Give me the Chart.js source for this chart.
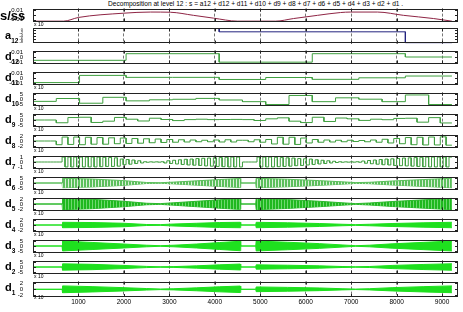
<!DOCTYPE html>
<html>
<head>
<meta charset="utf-8">
<script src="https://cdn.jsdelivr.net/npm/chart.js@4/dist/chart.umd.min.js"></script>
<style>
  body { margin: 0; width: 463px; height: 312px; overflow: hidden; position: relative; background: #fff;
         font-family: "Liberation Sans", Arial, sans-serif; }
  #title { position: absolute; top: 0; left: 108px; font-size: 6.6px; white-space: nowrap; color: #000; }
  .lab { position: absolute; font-weight: bold; font-size: 11px; line-height: 1; color: #000; }
  .lab .sb { font-size: 6.5px; position: relative; top: 4px; }
  .ex { position: absolute; left: 34px; font-size: 5px; line-height: 1; color: #000; }
</style>
</head>
<body>
<div id="title">Decomposition at level 12 : s = a12 + d12 + d11 + d10 + d9 + d8 + d7 + d6 + d5 + d4 + d3 + d2 + d1 .</div>
<script>
// ---- data ----
const X_MAX = 9350;
const SIG_END = 9216;
const xTickValues = [1000, 2000, 3000, 4000, 5000, 6000, 7000, 8000, 9000];

// signal s/ss
const sX = [0, 671, 1000, 1990, 2585, 3025, 3530, 3970, 4500, 5335, 5730, 6260, 6765, 6985, 7580, 8150, 8815, 9216];
const sY = [-0.013, -0.013, -0.0052, 0.0038, 0.0062, 0.0058, -0.0007, -0.0066, -0.013, -0.013, -0.0075, -0.0007, 0.0052, 0.0062, 0.0062, -0.0007, -0.0075, -0.013];

// approximation a12 (one level per 4096 samples)
const a12 = [2, 0.55, -0.9];

// step details (one level per block)
const d12 = [-0.0067, 0.0067, -0.0105, 0.0067, 0];
const d11 = [-0.0093, 0.0053, 0.0013, 0.0013, -0.003, 0.001, -0.0027, 0.0004, 0.004];
const d10 = [-2.4, 0.5, -4.3, 1.7, -1.9, -0.8, -0.3, 0.6, -1.0, -2.7, -5.6, 3.6, -2.7, 1.2, -0.2, -2.7, 4.1, -5.6];
const d9 = [0, 0, -2.8, 2.5, 2.8, -2.5, -1.2, 2.6, 0.8, -1.0, 1.8, 0.5, -0.6, 0.4, 0.8, 0.4, 0.5, 0.6,
            0.4, -0.5, 1.2, 2.2, -1.2, -2.6, 2.8, -1.5, 2.0, 1.2, -0.4, 0.8, 0.3, 1.6, 1.8, -2.2, 2.4, -3.0];
const d8 = [0, 0, 0, 0,
            -1.5, 1.6, -1.4, 1.6, -1.5, 1.5, -1.3, 1.4, -1.3, 1.3, -1.1, 1.2, -1.0, 1.0, -0.9, 0.9, -0.7, 0.8, -0.6, 0.6, -0.5, 0.5, -0.4, 0.4,
            -0.3, 0.3, -0.3, 0.4, -0.4, 0.5, -0.4, 0.3,
            0.3, -0.3, 0.5, -0.5, 0.6,
            -1.2, 1.5, -1.3, 1.5, -1.4, 1.2, -0.8,
            0.6, -0.5, 0.4, -0.4, 0.3, -0.3, 0.3, -0.2, 0.2,
            -0.3, 0.4, -0.5, 0.7, -0.8, 1.0, -1.1,
            1.4, -1.5, 1.5, -1.6, 1.6, -1.6, 1.7, -1.7];
const d7 = [0, 0, 0, 0, 0, 0, 0, 0, 0, 0,
            1, -1, 1, -1, 1, -1, 1, -1, 1, -1, 1, -1, 1, -0.95, 0.95, -0.9, 0.9, -0.9, 0.85, -0.85,
            0.6, -0.55, 0.5, -0.45, 0.4, -0.3, 0.25, -0.2,
            0.05, -0.05, 0.03, -0.03, 0.03, -0.03, 0.05,
            -0.2, 0.25, -0.3, 0.35, -0.4, 0.45, -0.5, 0.55, -0.6, 0.6, -0.65, 0.7, -0.7, 0.75, -0.8, 0.8, -0.85, 0.85,
            -0.9, 0.9, -0.95, 0.95, -1, 1, -1, 1, -1,
            0, 0, 0, 0, 0,
            1, -1, 1, -1, 1, -1, 0.95, -0.95, 0.9, -0.9, 0.85, -0.85, 0.8, -0.75, 0.7, -0.7, 0.65, -0.6, 0.6,
            -0.5, 0.45, -0.4, 0.35, -0.3, 0.25, -0.2, 0.15, -0.1,
            0.05, -0.05, 0.03, -0.03, 0.03, -0.03, 0.05, -0.05,
            0.2, -0.25, 0.3, -0.35, 0.4, -0.45, 0.5, -0.55, 0.6, -0.6, 0.65, -0.7, 0.7, -0.75, 0.8, -0.8, 0.85, -0.85,
            0.9, -0.9, 0.95, -0.95, 1, -1, 1, -1, 1, -1, 1, -1, 1];

// dense details: upper / lower envelope at envX
const envX = [0, 640, 650, 1300, 2000, 2500, 2800, 3100, 3600, 4100, 4560, 4570, 4900, 4910, 5600, 6300, 6800, 7100, 7400, 7900, 8600, 9216];
const d6Hi = [0, 0, 4.8, 4.0, 2.4, 0.5, 0.3, 0.9, 2.2, 3.5, 4.6, 0, 0, 4.8, 3.8, 2.4, 1.2, 0.4, 0.7, 2.0, 3.5, 4.8];
const d6Lo = [0, 0, -4.8, -4.0, -2.4, -0.5, -0.3, -0.9, -2.2, -3.5, -4.6, 0, 0, -4.8, -3.8, -2.4, -1.2, -0.4, -0.7, -2.0, -3.5, -4.8];
const d5Hi = [0, 0, 2.3, 1.9, 1.1, 0.3, 0.15, 0.5, 1.1, 1.7, 2.2, 0, 0, 2.3, 1.8, 1.1, 0.5, 0.15, 0.4, 1.0, 1.7, 2.3];
const d5Lo = [0, 0, -2.3, -1.9, -1.1, -0.3, -0.15, -0.5, -1.1, -1.7, -2.2, 0, 0, -2.3, -1.8, -1.1, -0.5, -0.15, -0.4, -1.0, -1.7, -2.3];
const d4Hi = [0, 0, 1.1, 1.0, 0.7, 0.2, 0.15, 0.4, 0.7, 1.0, 1.1, 0, 0, 1.1, 0.9, 0.6, 0.3, 0.15, 0.3, 0.6, 0.9, 1.1];
const d4Lo = [0, 0, -1.1, -1.0, -0.7, -0.2, -0.15, -0.4, -0.7, -1.0, -1.1, 0, 0, -1.1, -0.9, -0.6, -0.3, -0.15, -0.3, -0.6, -0.9, -1.1];
const d3Hi = [0, 0, 5.0, 3.6, 2.0, 0.8, 0.3, 0.8, 2.0, 3.5, 4.8, 0, 0, 5.0, 3.8, 2.4, 1.1, 0.3, 0.8, 2.2, 3.7, 5.0];
const d3Lo = [0, 0, -5.0, -3.6, -2.0, -0.8, -0.3, -0.8, -2.0, -3.5, -4.8, 0, 0, -5.0, -3.8, -2.4, -1.1, -0.3, -0.8, -2.2, -3.7, -5.0];
const d2Hi = [0, 0, 3.2, 2.7, 1.6, 0.6, 0.2, 0.4, 1.2, 2.2, 3.0, 0, 0, 2.2, 1.8, 1.2, 0.5, 0.2, 0.5, 1.6, 2.6, 3.3];
const d2Lo = [0, 0, -3.2, -2.7, -1.6, -0.6, -0.2, -0.4, -1.2, -2.2, -3.0, 0, 0, -2.2, -1.8, -1.2, -0.5, -0.2, -0.5, -1.6, -2.6, -3.3];
const d1Hi = [0, 0, 1.15, 0.9, 0.55, 0.25, 0.1, 0.2, 0.5, 0.85, 1.1, 0, 0, 0.8, 0.65, 0.45, 0.2, 0.08, 0.2, 0.55, 0.9, 1.15];
const d1Lo = [0, 0, -1.15, -0.9, -0.55, -0.25, -0.1, -0.2, -0.5, -0.85, -1.1, 0, 0, -0.8, -0.65, -0.45, -0.2, -0.08, -0.2, -0.55, -0.9, -1.15];

// y tick values / labels per row
const tk01 = [-0.01, 0, 0.01], tl01 = ["-0.01", "0", "0.01"];
const tk5 = [-5, 0, 5], tl5 = ["-5", "0", "5"];
const tk2 = [-2, 0, 2], tl2 = ["-2", "0", "2"];
const tk1 = [-1, 0, 1], tl1 = ["-1", "0", "1"];
const tkA = [-0.8, -0.4, 0, 0.4, 0.8], tlA = ["-8", "-6", "-4", "-2", "0"];

// ---- helpers ----
function stepPts(levels, block) {
  const pts = [];
  levels.forEach((v, i) => {
    pts.push({ x: i * block, y: v });
    pts.push({ x: Math.min((i + 1) * block, SIG_END), y: v });
  });
  return pts;
}
function zip(xs, ys) { return xs.map((x, i) => ({ x, y: ys[i] })); }

function stripes(col, bg, on, off) {
  const c = document.createElement("canvas");
  c.width = on + off; c.height = 4;
  const g = c.getContext("2d");
  g.fillStyle = bg; g.fillRect(0, 0, on + off, 4);
  g.fillStyle = col; g.fillRect(0, 0, on, 4);
  return g.createPattern(c, "repeat");
}

const STEP = "#3f9f3f";
const stepSet = (pts) => [{ data: pts, borderColor: STEP, borderWidth: 1 }];
const envSet = (hi, lo, fill, line) => [
  { data: zip(envX, hi), borderColor: line, borderWidth: 1, fill: "+1", backgroundColor: fill },
  { data: zip(envX, lo), borderColor: line, borderWidth: 1, fill: false }
];

// frame + inward ticks
const frame = {
  id: "frame",
  afterDatasetsDraw(chart) {
    const { ctx, chartArea: a, scales: { x, y } } = chart;
    ctx.save();
    ctx.strokeStyle = "#222";
    ctx.lineWidth = 1;
    ctx.beginPath();
    y.ticks.forEach(t => {
      const py = Math.round(y.getPixelForValue(t.value)) + 0.5;
      ctx.moveTo(a.left, py); ctx.lineTo(a.left + 3, py);
      ctx.moveTo(a.right - 3, py); ctx.lineTo(a.right, py);
    });
    x.ticks.forEach(t => {
      const px = Math.round(x.getPixelForValue(t.value)) + 0.5;
      ctx.moveTo(px, a.top); ctx.lineTo(px, a.top + 3);
      ctx.moveTo(px, a.bottom - 3); ctx.lineTo(px, a.bottom);
    });
    ctx.stroke();
    ctx.strokeRect(Math.round(a.left) + 0.5, Math.round(a.top) + 0.5,
                   Math.round(a.right - a.left) - 1, Math.round(a.bottom - a.top) - 1);
    ctx.restore();
  }
};

const rows = [
  { main: "s/ss", sub: "", lim: 0.0135, yt: tk01, yl: tl01, ex: true,
    sets: [{ data: zip(sX, sY), borderColor: "#8e2444", borderWidth: 1, cubicInterpolationMode: "monotone" }] },
  { main: "a", sub: "12", lim: 1, yt: tkA, yl: tlA, ex: false, small: true,
    sets: [{ data: stepPts(a12, 4096), borderColor: "#23237f", borderWidth: 1 }] },
  { main: "d", sub: "12", lim: 0.013, yt: tk01, yl: tl01, ex: false, sets: stepSet(stepPts(d12, 2048)) },
  { main: "d", sub: "11", lim: 0.013, yt: tk01, yl: tl01, ex: true, sets: stepSet(stepPts(d11, 1024)) },
  { main: "d", sub: "10", lim: 6.5, yt: tk5, yl: tl5, ex: true, sets: stepSet(stepPts(d10, 512)) },
  { main: "d", sub: "9", lim: 6.5, yt: tk5, yl: tl5, ex: true, sets: stepSet(stepPts(d9, 256)) },
  { main: "d", sub: "8", lim: 2.6, yt: tk2, yl: tl2, ex: true, sets: stepSet(stepPts(d8, 128)) },
  { main: "d", sub: "7", lim: 1.3, yt: tk1, yl: tl1, ex: true, sets: stepSet(stepPts(d7, 64)) },
  { main: "d", sub: "6", lim: 6.5, yt: tk5, yl: tl5, ex: true,
    sets: envSet(d6Hi, d6Lo, stripes("#5cbf5c", "#d8f0d8", 2, 1), "#5cbf5c") },
  { main: "d", sub: "5", lim: 2.6, yt: tk2, yl: tl2, ex: true,
    sets: envSet(d5Hi, d5Lo, stripes("#1fb81f", "#6fd86f", 2, 1), "#2cb82c") },
  { main: "d", sub: "4", lim: 2.6, yt: tk2, yl: tl2, ex: true, sets: envSet(d4Hi, d4Lo, "#1ee01e", "#1ee01e") },
  { main: "d", sub: "3", lim: 6.5, yt: tk5, yl: tl5, ex: true, sets: envSet(d3Hi, d3Lo, "#1ee01e", "#1ee01e") },
  { main: "d", sub: "2", lim: 6.5, yt: tk5, yl: tl5, ex: true, sets: envSet(d2Hi, d2Lo, "#1ee01e", "#1ee01e") },
  { main: "d", sub: "1", lim: 2.6, yt: tk2, yl: tl2, ex: true, sets: envSet(d1Hi, d1Lo, "#1ee01e", "#1ee01e") }
];

const FONT = "'Liberation Sans', Arial, sans-serif";

rows.forEach((r, i) => {
  const top = 6 + 21 * i;
  const last = i === rows.length - 1;
  const cv = document.createElement("canvas");
  cv.width = 463;
  cv.height = last ? 33 : 24;
  cv.style.cssText = `position:absolute;left:0;top:${top - 3}px`;
  document.body.appendChild(cv);

  const lab = document.createElement("div");
  lab.className = "lab";
  if (r.sub) {
    lab.style.cssText = `top:${top + 3}px;left:5px`;
    lab.innerHTML = `${r.main}<span class="sb">${r.sub}</span>`;
  } else {
    lab.style.cssText = `top:${top + 3}px;left:0px;font-size:13px`;
    lab.textContent = r.main;
  }
  document.body.appendChild(lab);

  if (r.ex) {
    const ex = document.createElement("div");
    ex.className = "ex";
    ex.style.top = (top + 16) + "px";
    ex.textContent = "x 10";
    document.body.appendChild(ex);
  }

  new Chart(cv, {
    type: "line",
    data: { datasets: r.sets },
    options: {
      responsive: false,
      animation: false,
      events: [],
      layout: { padding: { left: 0, right: 5, top: 3, bottom: last ? 0 : 3 } },
      plugins: { legend: { display: false }, tooltip: { enabled: false } },
      elements: { point: { radius: 0 }, line: { tension: 0 } },
      scales: {
        x: {
          type: "linear", min: 0, max: X_MAX,
          afterBuildTicks: s => { s.ticks = xTickValues.map(v => ({ value: v })); },
          afterFit: s => { s.height = last ? 12 : 0; },
          ticks: { display: last, autoSkip: false, maxRotation: 0, padding: 1, color: "#000",
                   font: { size: 6.5, family: FONT }, callback: v => String(v) },
          grid: { color: "#555", lineWidth: 0.8, drawTicks: false, borderDash: [3, 2] },
          border: { display: false, dash: [3, 2] }
        },
        y: {
          min: -r.lim, max: r.lim,
          afterBuildTicks: s => { s.ticks = r.yt.map(v => ({ value: v })); },
          afterFit: s => { s.width = 33; },
          ticks: { autoSkip: false, padding: 2, color: "#000", font: { size: r.small ? 4 : 6, family: FONT },
                   callback: (v, idx) => r.yl[idx] },
          grid: { display: false },
          border: { display: false }
        }
      }
    },
    plugins: [frame]
  });
});
</script>
</body>
</html>
